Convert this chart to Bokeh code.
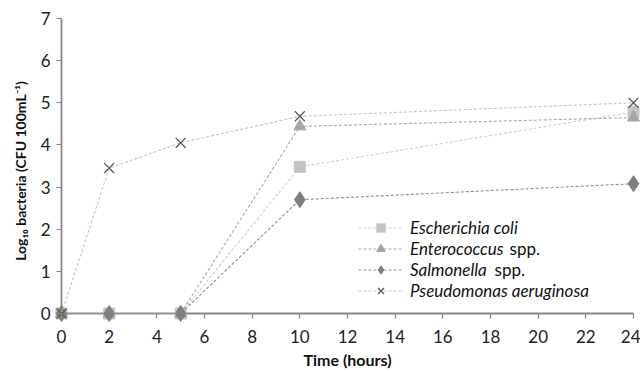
from bokeh.plotting import figure
from bokeh.models import Range1d, Legend, LegendItem, Label, FixedTicker
from bokeh.embed import file_html
from bokeh.resources import INLINE

time_h = [0, 2, 5, 10, 24]
e_coli = [0, 0, 0, 3.48, 4.78]
enterococcus = [0, 0, 0, 4.44, 4.65]
salmonella = [0, 0, 0, 2.70, 3.08]
pseudomonas = [0, 3.45, 4.05, 4.68, 5.00]

x_ticks = list(range(0, 25, 2))
y_ticks = list(range(0, 8))

FONT = "Lato"
AX = "#868686"

W, H = 640, 371
BL, BR, BT, BB = 54, 0, 18, 48
fw = W - BL - BR
fh = H - BT - BB
XPAD_PX, YPAD_PX = 7, 10   # room so markers on the zero lines are not cut
xspan = x_ticks[-1] - x_ticks[0]
yspan = y_ticks[-1] - y_ticks[0]
XPAD = XPAD_PX * xspan / (fw - 2 * XPAD_PX)
YPAD = YPAD_PX * yspan / (fh - YPAD_PX)

p = figure(width=W, height=H, output_backend="svg", toolbar_location=None,
           x_range=Range1d(x_ticks[0] - XPAD, x_ticks[-1] + XPAD),
           y_range=Range1d(y_ticks[0] - YPAD, y_ticks[-1]),
           min_border_left=BL, min_border_right=BR, min_border_top=BT, min_border_bottom=BB)
p.outline_line_color = None
p.xgrid.visible = False
p.ygrid.visible = False
p.background_fill_color = "white"

for ax in (p.xaxis[0], p.yaxis[0]):
    ax.axis_line_color = None
    ax.major_tick_line_color = AX
    ax.major_tick_line_width = 1.2
    ax.minor_tick_line_color = None
    ax.minor_tick_out = 0
    ax.minor_tick_in = 0
    ax.major_label_text_font = FONT
    ax.major_label_text_font_size = "17px"
    ax.major_label_text_color = "#222222"
    ax.axis_label_text_font = FONT
    ax.axis_label_text_font_style = "bold"
    ax.axis_label_text_color = "#111111"

p.xaxis.axis_label_text_font_size = "16px"
p.yaxis.axis_label_text_font_size = "14px"

p.xaxis.major_tick_in = YPAD_PX
p.xaxis.major_tick_out = -(YPAD_PX - 5)
p.yaxis.major_tick_in = XPAD_PX
p.yaxis.major_tick_out = -(XPAD_PX - 5)

p.xaxis.ticker = FixedTicker(ticks=x_ticks)
p.yaxis.ticker = FixedTicker(ticks=y_ticks)
p.xaxis.axis_label = "Time (hours)"
p.yaxis.axis_label = "Log\u2081\u2080 bacteria (CFU 100mL\u207b\u00b9)"
p.xaxis.major_label_standoff = 6
p.yaxis.major_label_standoff = 4
p.xaxis.axis_label_standoff = 4
p.yaxis.axis_label_standoff = 9

# axis lines at the zero lines
p.segment(x0=[x_ticks[0], x_ticks[0]], y0=[y_ticks[0], y_ticks[0]],
          x1=[x_ticks[-1], x_ticks[0]], y1=[y_ticks[0], y_ticks[-1]],
          line_color=AX, line_width=1.8)

series = [
    ("Escherichia coli", e_coli, "square", 11, "#c3c3c3", "#cfcfcf"),
    ("Enterococcus", enterococcus, "triangle", 12, "#a5a5a5", "#a8a8a8"),
    ("Salmonella", salmonella, "diamond", 16, "#7f7f7f", "#8e8e8e"),
    ("Pseudomonas aeruginosa", pseudomonas, "x", 14, "#595959", "#c4c4c4"),
]

items = []
for name, ys, marker, size, mcol, lcol in series:
    r1 = p.line(time_h, ys, line_color=lcol, line_width=1.1, line_dash="3 2")
    if marker == "x":
        r2 = p.scatter(time_h, ys, marker="x", size=size, line_color=mcol, line_width=1.3)
    else:
        r2 = p.scatter(time_h, ys, marker=marker, size=size,
                       fill_color=mcol, line_color=mcol)
    items.append(LegendItem(label=name, renderers=[r1, r2]))

legend = Legend(items=items, location=(304, 22))
legend.background_fill_alpha = 0
legend.border_line_color = None
legend.padding = 0
legend.margin = 0
legend.spacing = 0
legend.glyph_width = 45
legend.glyph_height = 21
legend.label_height = 21
legend.label_standoff = 7
legend.label_text_font = FONT
legend.label_text_font_size = "17px"
legend.label_text_font_style = "italic"
legend.label_text_color = "#111111"
p.add_layout(legend)

def dx(px):
    return (px - 61) / 23.83

def dy(py):
    return (313 - py) / 42.14

p.add_layout(Label(x=dx(509), y=dy(248), text="spp.", text_font=FONT,
                   text_font_size="17px", text_color="#111111", text_baseline="middle"))
p.add_layout(Label(x=dx(494), y=dy(269.5), text="spp.", text_font=FONT,
                   text_font_size="17px", text_color="#111111", text_baseline="middle"))

open("out.html", "w").write(file_html(p, INLINE))
